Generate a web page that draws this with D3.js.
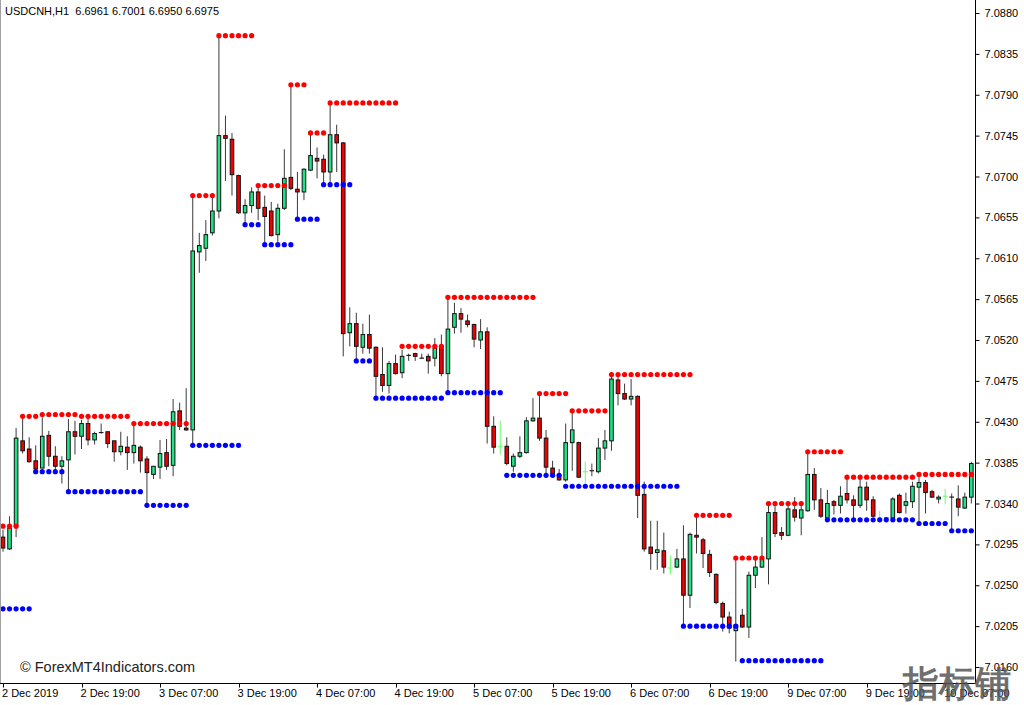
<!DOCTYPE html>
<html><head><meta charset="utf-8">
<script src="https://cdn.jsdelivr.net/npm/d3@7"></script>
<style>
body{margin:0;background:#fff;}
svg{display:block;}
text{font-family:"Liberation Sans",Arial,sans-serif;}
</style>
</head><body><svg id="c" width="1024" height="705"></svg>
<script>
const opens=[7.0303,7.0290,7.0315,7.0409,7.0400,7.0387,7.0379,7.0415,7.0392,7.0381,7.0388,7.0419,7.0414,7.0428,7.0410,7.04181,7.0419,7.0409,7.0397,7.0402,7.0396,7.0402,7.0389,7.0372,7.0380,7.0396,7.0382,7.0442,7.0423,7.0421,7.0617,7.0621,7.0638,7.0662,7.0745,7.0741,7.0701,7.0660,7.0668,7.0683,7.0666,7.0662,7.0636,7.0665,7.0699,7.0686,7.0683,7.0707,7.0720,7.0719,7.0705,7.0746,7.0737,7.0528,7.0538,7.0512,7.0526,7.0512,7.0482,7.0470,7.0494,7.0484,7.05031,7.0505,7.05001,7.0502,7.0500,7.0513,7.0483,7.0534,7.0549,7.0541,7.0537,7.0520,7.0529,7.0425,7.0403,7.0403,7.0381,7.0392,7.0396,7.0431,7.0434,7.0412,7.0379,7.0371,7.0366,7.0407,7.0407,7.0375,7.03761,7.0375,7.0401,7.0409,7.0476,7.0461,7.0455,7.0458,7.0350,7.0292,7.0286,7.0288,7.0269,7.0270,7.0279,7.0239,7.0305,7.0300,7.0284,7.0262,7.0230,7.0215,7.0200,7.0217,7.0204,7.0261,7.0270,7.0279,7.0330,7.0308,7.0305,7.0333,7.0324,7.0332,7.0372,7.0344,7.0324,7.0342,7.0338,7.0351,7.0344,7.0338,7.0358,7.0344,7.0324,7.03241,7.0324,7.0349,7.0338,7.0342,7.0358,7.0363,7.0353,7.0345,7.0348,7.03471,7.0345,7.0335,7.0347];
const highs=[7.0311,7.0326,7.0423,7.0434,7.0413,7.0404,7.0435,7.0420,7.0403,7.0392,7.0433,7.0431,7.0432,7.0436,7.0419,7.0428,7.0419,7.0409,7.0419,7.0414,7.0428,7.0404,7.0392,7.0381,7.0410,7.0411,7.0455,7.0451,7.0467,7.0678,7.0638,7.0652,7.0678,7.0855,7.0767,7.0748,7.0702,7.0675,7.0688,7.0689,7.0679,7.0672,7.0670,7.0730,7.0801,7.0705,7.0709,7.0748,7.0732,7.0724,7.0782,7.0757,7.0738,7.0556,7.0550,7.0538,7.0548,7.0513,7.0512,7.0497,7.0504,7.0509,7.0505,7.0506,7.0505,7.0505,7.0522,7.0526,7.0567,7.0561,7.0555,7.0548,7.0538,7.0543,7.0534,7.0436,7.0431,7.0413,7.0395,7.0414,7.0435,7.0456,7.0461,7.0421,7.0387,7.0378,7.0428,7.0443,7.0408,7.0386,7.0384,7.0412,7.0421,7.0482,7.0480,7.0472,7.0477,7.0459,7.0364,7.0321,7.0321,7.0308,7.0283,7.0290,7.0316,7.0308,7.0326,7.0302,7.0289,7.0263,7.0232,7.0221,7.0281,7.0224,7.0265,7.0280,7.0303,7.0340,7.0340,7.0314,7.0340,7.0347,7.0342,7.0397,7.0379,7.0357,7.0355,7.0344,7.0359,7.0367,7.0349,7.0367,7.0364,7.0348,7.0332,7.0325,7.0347,7.0351,7.0352,7.0364,7.0371,7.0366,7.0355,7.0349,7.0356,7.0351,7.0360,7.0352,7.0386];
const lows=[7.0287,7.0289,7.0303,7.0395,7.0385,7.0375,7.0379,7.0381,7.0375,7.0362,7.0353,7.0394,7.0400,7.0404,7.0405,7.0417,7.0401,7.0386,7.0393,7.0377,7.0384,7.0374,7.0338,7.0367,7.0367,7.0377,7.0370,7.0421,7.0420,7.0404,7.0594,7.0607,7.0635,7.0654,7.0695,7.0679,7.0659,7.0648,7.0660,7.0652,7.0625,7.0634,7.0628,7.0663,7.0685,7.0653,7.0674,7.0706,7.0698,7.0691,7.0693,7.0705,7.0502,7.0513,7.0498,7.0505,7.0505,7.0457,7.0463,7.0461,7.0482,7.0478,7.0497,7.0497,7.0499,7.0483,7.0491,7.0480,7.0462,7.0527,7.0528,7.0534,7.0512,7.0510,7.0406,7.0395,7.0394,7.0382,7.0375,7.0390,7.0395,7.0430,7.0409,7.0373,7.0371,7.0365,7.0364,7.0376,7.0368,7.0362,7.0370,7.0373,7.0388,7.0398,7.0448,7.0454,7.0448,7.0324,7.0287,7.0267,7.0267,7.0263,7.0262,7.0269,7.0206,7.0225,7.0285,7.0269,7.0259,7.0229,7.0199,7.0197,7.0166,7.0203,7.0192,7.0247,7.0269,7.0251,7.0303,7.0300,7.0304,7.0320,7.0305,7.0331,7.0333,7.0324,7.0322,7.0328,7.0329,7.0340,7.0323,7.0335,7.0332,7.0325,7.0322,7.0322,7.0322,7.0329,7.0329,7.0335,7.0319,7.0329,7.0346,7.0340,7.0339,7.0309,7.0326,7.0334,7.0340];
const closes=[7.0291,7.0313,7.0412,7.0398,7.0386,7.0378,7.0414,7.0392,7.0381,7.0387,7.0419,7.0414,7.0428,7.0410,7.0417,7.0418,7.0406,7.0397,7.0403,7.0396,7.0404,7.0387,7.0374,7.0381,7.0395,7.0381,7.0441,7.0425,7.0421,7.0618,7.0624,7.0636,7.0662,7.0745,7.0742,7.0702,7.0660,7.0668,7.0683,7.0665,7.0656,7.0635,7.0665,7.0698,7.0687,7.0683,7.0708,7.0723,7.0717,7.0705,7.0746,7.0737,7.0527,7.0538,7.0513,7.0526,7.0511,7.0480,7.0470,7.0494,7.0483,7.0502,7.0503,7.0502,7.0500,7.0497,7.0511,7.0483,7.0532,7.0549,7.0543,7.0537,7.0521,7.0529,7.0425,7.0402,7.0403,7.0384,7.0392,7.0396,7.0431,7.0434,7.0412,7.0380,7.0373,7.0366,7.0407,7.0421,7.0369,7.0375,7.0376,7.0401,7.0409,7.0477,7.0461,7.0455,7.0458,7.0349,7.0290,7.0285,7.0289,7.0270,7.0269,7.0279,7.0239,7.0306,7.0303,7.0285,7.0264,7.0231,7.0215,7.0203,7.0206,7.0204,7.0261,7.0270,7.0279,7.0330,7.0307,7.0305,7.0334,7.0325,7.0333,7.0372,7.0344,7.0326,7.0340,7.0338,7.0348,7.0344,7.0338,7.0358,7.0344,7.0326,7.0324,7.0324,7.0345,7.0330,7.0342,7.0359,7.0363,7.0352,7.0347,7.0347,7.0348,7.0347,7.0336,7.0347,7.0384];

const resStart=[0,3,6,12,20,29,33,39,44,47,50,61,68,82,87,93,106,112,117,123,129,140];
const resEnd=[2,5,11,19,28,32,38,43,46,49,60,67,81,86,92,105,111,116,122,128,139,148];
const resLevel=[7.0315,7.0436,7.0438,7.0436,7.0428,7.0679,7.0855,7.0690,7.0801,7.0748,7.0781,7.0513,7.0567,7.0461,7.0442,7.0482,7.0327,7.0280,7.0340,7.0397,7.0369,7.0372];
const supStart=[0,5,10,22,29,37,40,45,49,54,57,68,77,86,104,113,126,140,145];
const supEnd=[4,9,21,28,36,39,44,48,53,56,67,76,85,103,112,125,139,144,148];
const supLevel=[7.0224,7.0375,7.0353,7.0338,7.0404,7.0647,7.0625,7.0653,7.0691,7.0497,7.0456,7.0462,7.0371,7.0359,7.0205,7.0167,7.0322,7.0318,7.0310];

const priceTicks=[7.0880,7.0835,7.0790,7.0745,7.0700,7.0655,7.0610,7.0565,7.0520,7.0475,7.0430,7.0385,7.0340,7.0295,7.0250,7.0205,7.0160];
const timeLabels=["2 Dec 2019","2 Dec 19:00","3 Dec 07:00","3 Dec 19:00","4 Dec 07:00","4 Dec 19:00","5 Dec 07:00","5 Dec 19:00","6 Dec 07:00","6 Dec 19:00","9 Dec 07:00","9 Dec 19:00","10 Dec 07:00"];
const title="USDCNH,H1  6.6961 6.7001 6.6950 6.6975";

const svg=d3.select("#c");
const plotR=975.5, plotB=683.5;
const n=opens.length;
const x=d3.scaleBand().domain(d3.range(n)).range([-0.27,974.6]);
const cx=i=>x(i)+x.bandwidth()/2;
const y=d3.scaleLinear().domain([7.0160,7.0880]).range([667,13]);

svg.append("defs").append("clipPath").attr("id","clip").append("rect").attr("x",0).attr("y",0).attr("width",plotR).attr("height",plotB);
const g=svg.append("g").attr("clip-path","url(#clip)");

svg.append("line").attr("x1",0.5).attr("x2",0.5).attr("y1",0).attr("y2",plotB).attr("stroke","#a0a0a0");

const GREEN="#1fe385", RED="#f00000";
const idx=d3.range(n);
const isDoji=i=>opens[i]===closes[i];
g.selectAll("line.wick").data(idx).join("line").attr("class","wick")
 .attr("x1",cx).attr("x2",cx).attr("y1",i=>y(highs[i])).attr("y2",i=>y(lows[i]))
 .attr("stroke",i=>isDoji(i)?"#66ff66":"#3a3a3a").attr("stroke-width",1);
const bw=3.6;
g.selectAll("rect.body").data(idx.filter(i=>!isDoji(i))).join("rect").attr("class","body")
 .attr("x",i=>cx(i)-bw/2).attr("width",bw)
 .attr("y",i=>y(Math.max(opens[i],closes[i])))
 .attr("height",i=>Math.max(0.01,Math.abs(y(opens[i])-y(closes[i]))))
 .attr("fill",i=>closes[i]>=opens[i]?GREEN:RED).attr("stroke","#111").attr("stroke-width",1);
g.selectAll("line.doji").data(idx.filter(isDoji)).join("line").attr("class","doji")
 .attr("x1",i=>cx(i)-2.5).attr("x2",i=>cx(i)+2.5).attr("y1",i=>y(opens[i])).attr("y2",i=>y(opens[i]))
 .attr("stroke","#66ff66");

function dots(starts,ends,levels,color){
  const pts=[];
  starts.forEach((s,k)=>{for(let i=s;i<=ends[k];i++)pts.push([i,levels[k]]);});
  g.append("g").selectAll("circle").data(pts).join("circle")
   .attr("cx",d=>cx(d[0])).attr("cy",d=>y(d[1])).attr("r",2.6).attr("fill",color);
}
dots(resStart,resEnd,resLevel,"#ff0000");
dots(supStart,supEnd,supLevel,"#0000ff");

const ya=d3.axisRight(y).tickValues(priceTicks).tickFormat(d3.format(".4f")).tickSize(4).tickPadding(5);
const yg=svg.append("g").attr("transform",`translate(${plotR},0)`).call(ya);
yg.select(".domain").attr("d",`M0,0V${plotB}`).attr("stroke","#000");
yg.selectAll("text").attr("font-size",11).attr("fill","#000").attr("font-family","Liberation Sans, Arial, sans-serif");

const tickIdx=timeLabels.map((_,k)=>k*12);
const xg=svg.append("g");
xg.append("line").attr("x1",0).attr("x2",plotR).attr("y1",plotB).attr("y2",plotB).attr("stroke","#000");
tickIdx.forEach((bi,k)=>{
  const px=Math.round(cx(bi))+0.5;
  xg.append("line").attr("x1",px).attr("x2",px).attr("y1",plotB).attr("y2",plotB+4).attr("stroke","#000");
  xg.append("text").attr("x",cx(bi)-1).attr("y",697).attr("font-size",11).attr("fill","#000").text(timeLabels[k]);
});

svg.append("text").attr("x",5).attr("y",15).attr("font-size",11).attr("fill","#000").style("white-space","pre").text(title);
svg.append("text").attr("x",20).attr("y",672).attr("font-size",14.5).attr("fill","#222").text("© ForexMT4Indicators.com");
svg.append("text").attr("x",903).attr("y",696).attr("font-size",36).attr("font-weight","bold").attr("fill","#555").attr("fill-opacity",0.85)
 .attr("font-family","Noto Sans CJK SC").text("指标铺");
</script>
</body></html>
